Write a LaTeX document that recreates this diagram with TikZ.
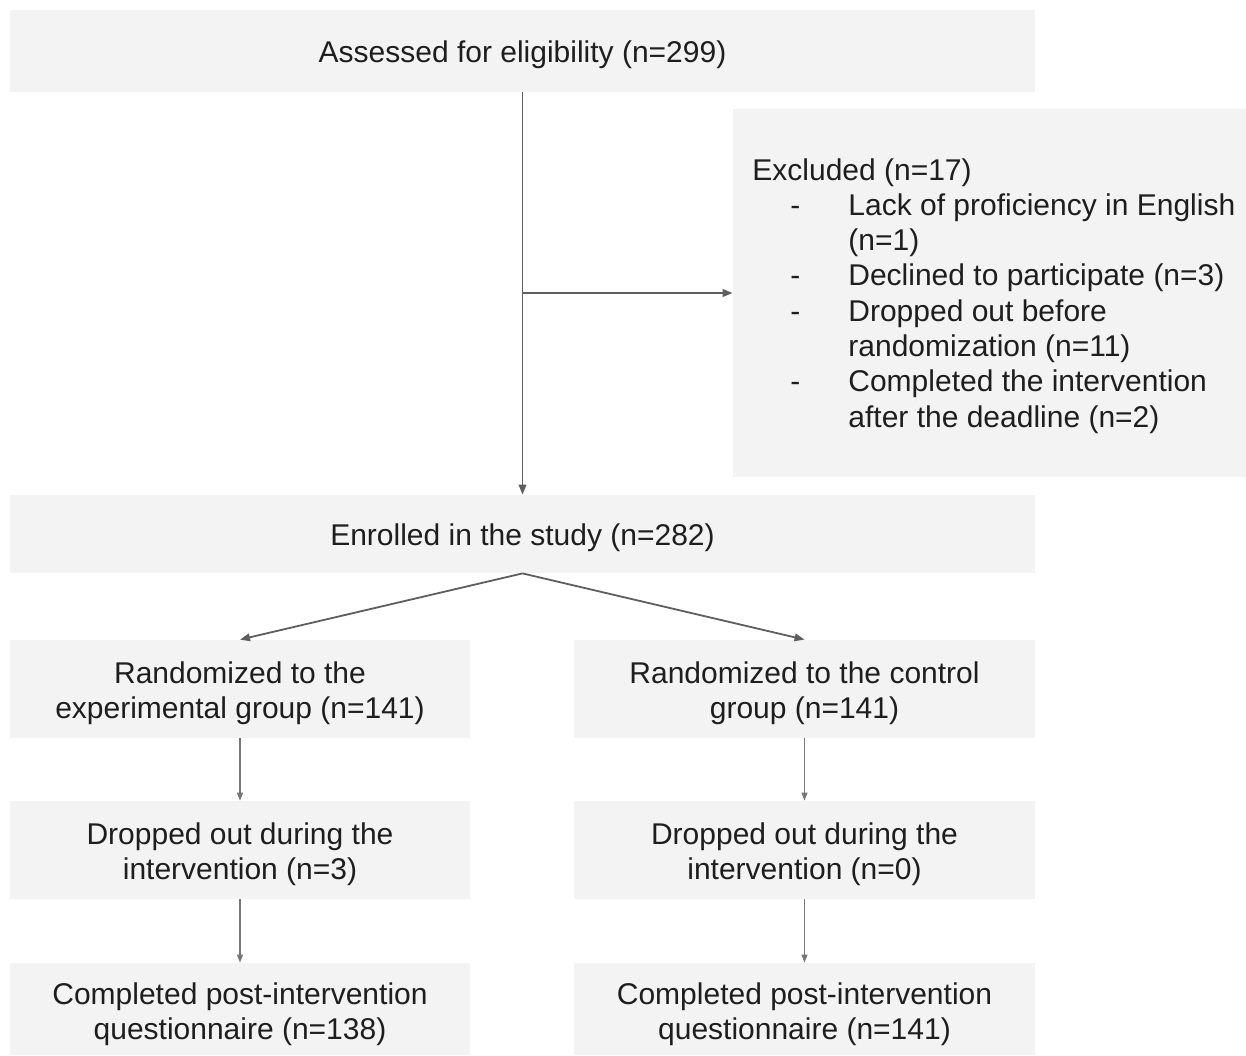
\documentclass[tikz,border=0pt]{standalone}
\usepackage{fontspec}
\setmainfont{Liberation Sans}
\usetikzlibrary{arrows.meta}
\definecolor{boxgray}{HTML}{F3F3F3}
\definecolor{linegray}{HTML}{5E5E5E}
\definecolor{txt}{HTML}{1E1E1E}
\newcommand\lowtxt[2][2pt]{\raisebox{-#1}[\height][\depth]{#2}}
\tikzset{
  box/.style={fill=boxgray, draw=none, inner sep=0pt, align=center, text=txt,
    font=\fontsize{15}{17.6}\selectfont},
  mainarrow/.style={draw=linegray, line width=0.9pt, -{Triangle[length=5pt,width=3.8pt]}},
  thinarrow/.style={draw=linegray!85, line width=0.6pt, -{Triangle[length=4pt,width=3pt]}}
}
\begin{document}
\begin{tikzpicture}[x=0.5pt,y=-0.5pt]
\useasboundingbox (0,0) rectangle (1246,1055);
\node[box, minimum width=512.5pt, minimum height=41pt] (top) at (522.5,51) {\lowtxt{Assessed for eligibility (n=299)}};
\node[box, minimum width=512.5pt, minimum height=39pt] (enr) at (522.5,534) {\lowtxt{Enrolled in the study (n=282)}};
\node[box, minimum width=256.5pt, minimum height=184pt] (excl) at (989.5,293) {};
\node[inner sep=0pt, anchor=base west, text=txt, font=\fontsize{15}{17.65}\selectfont] (excltxt) at (752,180) {%
\begin{tabular}[t]{@{}p{19pt}@{}p{29pt}@{}l@{}}
\multicolumn{3}{@{}l@{}}{Excluded (n=17)}\\
& - & Lack of proficiency in English\\
& & (n=1)\\
& - & Declined to participate (n=3)\\
& - & Dropped out before\\
& & randomization (n=11)\\
& - & Completed the intervention\\
& & after the deadline (n=2)
\end{tabular}};
\node[box, minimum width=230pt, minimum height=49pt] (rexp) at (240,689) {\lowtxt{Randomized to the}\\\lowtxt{experimental group (n=141)}};
\node[box, minimum width=230.5pt, minimum height=49pt] (rctl) at (804.5,689) {\lowtxt{Randomized to the control}\\\lowtxt{group (n=141)}};
\node[box, minimum width=230pt, minimum height=49pt] (dexp) at (240,850) {\lowtxt{Dropped out during the}\\\lowtxt{intervention (n=3)}};
\node[box, minimum width=230.5pt, minimum height=49pt] (dctl) at (804.5,850) {\lowtxt{Dropped out during the}\\\lowtxt{intervention (n=0)}};
\node[box, minimum width=230pt, minimum height=46pt] (cexp) at (240,1009) {\lowtxt[2.7pt]{Completed post-intervention}\\\lowtxt[2.7pt]{questionnaire (n=138)}};
\node[box, minimum width=230.5pt, minimum height=46pt] (cctl) at (804.5,1009) {\lowtxt[2.7pt]{Completed post-intervention}\\\lowtxt[2.7pt]{questionnaire (n=141)}};
\coordinate (br) at (top.south |- excl.west);
\draw[mainarrow] (top.south) -- (enr.north);
\draw[mainarrow] (br) -- (excl.west);
\draw[mainarrow] (enr.south) -- (rexp.north);
\draw[mainarrow] (enr.south) -- (rctl.north);
\draw[thinarrow] (rexp.south) -- (dexp.north);
\draw[thinarrow] (rctl.south) -- (dctl.north);
\draw[thinarrow] (dexp.south) -- (cexp.north);
\draw[thinarrow] (dctl.south) -- (cctl.north);
\end{tikzpicture}
\end{document}
